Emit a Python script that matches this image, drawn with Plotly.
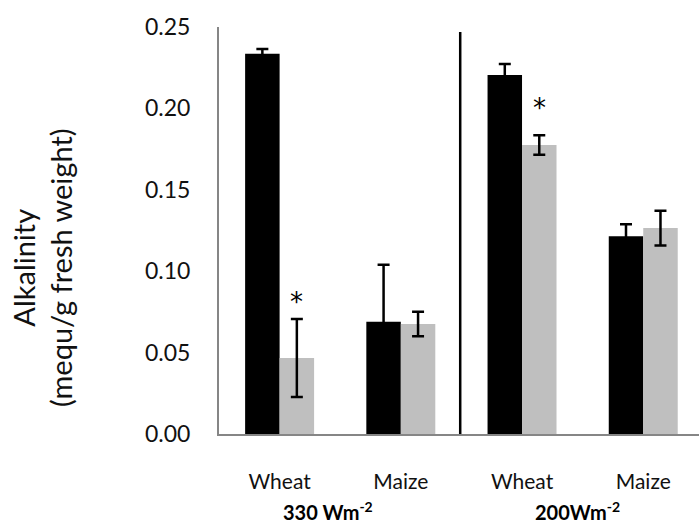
import plotly.graph_objects as go

# ── Data ──────────────────────────────────────────────────────────────────────
categories = ["Wheat", "Maize", "Wheat", "Maize"]
group_labels = ["330 Wm<sup>-2</sup>", "200Wm<sup>-2</sup>"]
black_vals = [0.2335, 0.069, 0.2205, 0.1215]
black_err = [0.003, 0.035, 0.0068, 0.0074]
gray_vals = [0.0467, 0.0676, 0.1775, 0.1265]
gray_err = [0.024, 0.0075, 0.006, 0.0107]
star_y = [0.0842, None, 0.2033, None]   # asterisk heights over gray bars

COLORS = {
    "black": "#000000",
    "gray": "#BFBFBF",
    "axis": "#868686",
    "text": "#111111",
}
FONT = "Lato, Carlito, Calibri, sans-serif"

x = list(range(len(categories)))

fig = go.Figure()
fig.add_trace(go.Bar(
    x=x, y=black_vals,
    marker=dict(color=COLORS["black"], line=dict(width=0)),
    error_y=dict(type="data", array=black_err, color="black", thickness=2.5, width=6),
    showlegend=False,
))
fig.add_trace(go.Bar(
    x=x, y=gray_vals,
    marker=dict(color=COLORS["gray"], line=dict(width=0)),
    error_y=dict(type="data", array=gray_err, color="black", thickness=2.5, width=6),
    showlegend=False,
))

# asterisks over the gray bars
for i, sy in enumerate(star_y):
    if sy is not None:
        fig.add_annotation(x=i + 0.142, y=sy, text="*", showarrow=False,
                           yanchor="middle", yshift=-5,
                           font=dict(size=26, color="black", family="DejaVu Sans"))

# separator between the two irradiance groups
fig.add_shape(type="line", xref="x", yref="y", x0=1.49, x1=1.49, y0=0, y1=0.247,
              line=dict(color="black", width=2.5))

# group labels under the categories
for gx, lab in zip([0.227, 0.746], group_labels):
    fig.add_annotation(xref="paper", yref="paper", x=gx, y=-0.19, text=f"<b>{lab}</b>",
                       showarrow=False, xanchor="center", yanchor="middle",
                       font=dict(size=20, color="black", family=FONT))

# y-axis title
fig.add_annotation(xref="paper", yref="paper", x=-0.369, y=0.41,
                   text="Alkalinity<br>(mequ/g fresh weight)", textangle=-90,
                   showarrow=False, xanchor="center", yanchor="middle",
                   font=dict(size=29, color=COLORS["text"], family=FONT))

fig.update_layout(
    barmode="group",
    bargap=0.431,
    bargroupgap=0,
    paper_bgcolor="white",
    plot_bgcolor="white",
    font=dict(family=FONT, color=COLORS["text"], size=21),
    margin=dict(l=219, r=0, t=27, b=91),
    width=699, height=525,
    xaxis=dict(
        tickvals=x, ticktext=categories,
        range=[-0.5, 3.46],
        showline=True, linecolor=COLORS["axis"], linewidth=2,
        ticks="", showgrid=False, zeroline=False,
        ticklabelstandoff=28,
        tickfont=dict(size=21, color=COLORS["text"]),
    ),
    yaxis=dict(
        range=[0, 0.25], dtick=0.05, tickformat=".2f",
        showline=True, linecolor=COLORS["axis"], linewidth=2,
        ticks="", showgrid=False, zeroline=False,
        ticklabelstandoff=22,
        tickfont=dict(size=23, color=COLORS["text"]),
    ),
)

fig.write_html("out.html", config={"displayModeBar": False},
               post_script="document.body.style.margin='0';document.body.style.overflow='hidden';")
